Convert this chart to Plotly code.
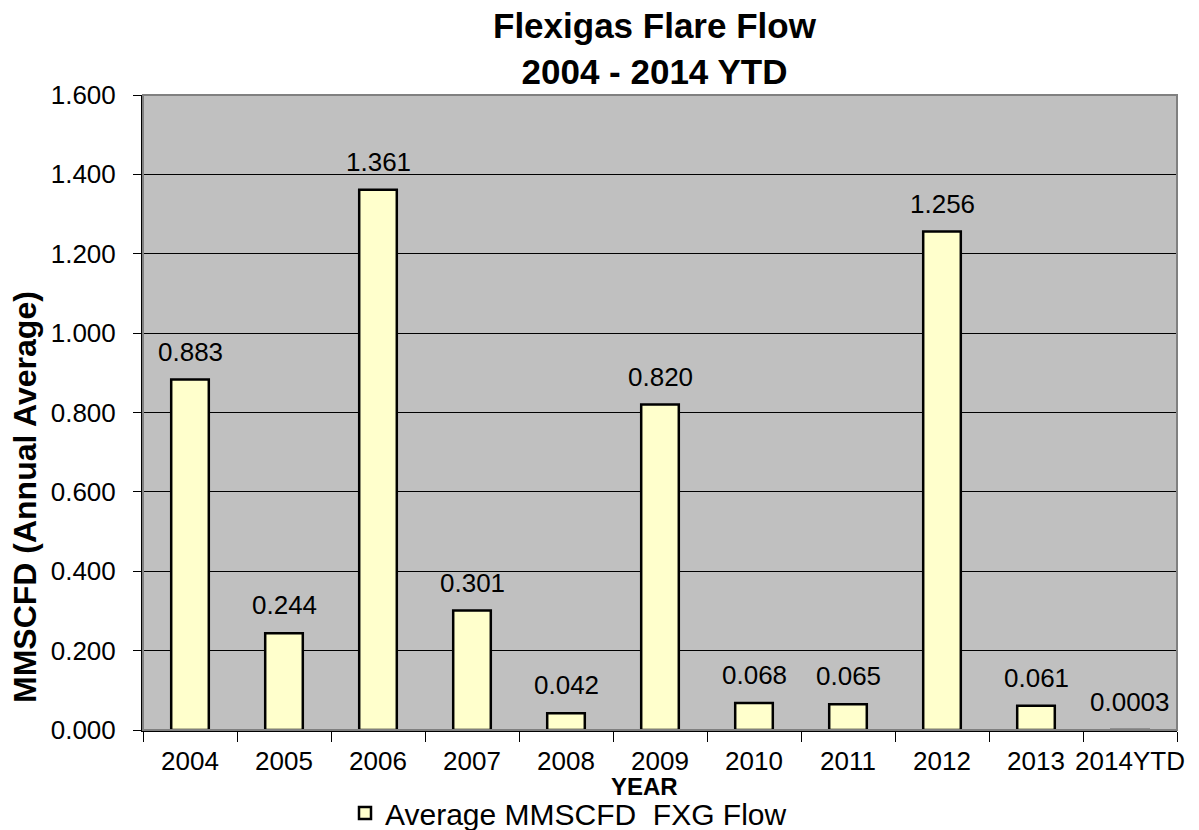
import plotly.graph_objects as go

categories = ["2004", "2005", "2006", "2007", "2008", "2009", "2010", "2011", "2012", "2013", "2014YTD"]
values = [0.883, 0.244, 1.361, 0.301, 0.042, 0.820, 0.068, 0.065, 1.256, 0.061, 0.0003]
labels = ["0.883", "0.244", "1.361", "0.301", "0.042", "0.820", "0.068", "0.065", "1.256", "0.061", "0.0003"]
series_name = "Average MMSCFD  FXG Flow"
y_ticks = [0.0, 0.2, 0.4, 0.6, 0.8, 1.0, 1.2, 1.4, 1.6]

FONT = "Liberation Sans, Arial, sans-serif"

# page body has an 8px margin: plot area on screen spans x 143..1177, y 95..730
OFF = 8
PL, PR, PT, PB = 143, 1177, 95, 730
W, H = 1199 - OFF, 830 - OFF


def px(x):
    return (x - PL) / (PR - PL)


def py(y):
    return (PB - y) / (PB - PT)


fig = go.Figure()
fig.add_trace(go.Bar(
    x=categories, y=values, name=series_name,
    marker=dict(color="#FFFFCC", line=dict(color="black", width=2.5)),
    cliponaxis=False, showlegend=True,
))

# value labels above bars (x given as category index on the category axis)
for i, (val, lab) in enumerate(zip(values, labels)):
    fig.add_annotation(x=i, y=val, text=lab, xref="x", yref="y", showarrow=False,
                       xanchor="center", yanchor="bottom", yshift=11,
                       font=dict(size=26, family=FONT, color="black"))

fig.update_layout(
    width=W, height=H,
    margin=dict(l=PL - OFF, r=W - (PR - OFF), t=PT - OFF, b=H - (PB - OFF), autoexpand=False),
    paper_bgcolor="white", plot_bgcolor="#C0C0C0",
    font=dict(family=FONT, color="black"),
    bargap=0.6,
    showlegend=True,
    legend=dict(orientation="h", x=px(345), xanchor="left", y=py(813), yanchor="middle",
                font=dict(size=30, family=FONT, color="black"), bgcolor="rgba(0,0,0,0)",
                itemwidth=30),
)

fig.update_xaxes(
    type="category", range=[-0.5, len(categories) - 0.5], showgrid=False,
    ticks="outside", ticklen=10, tickcolor="black",
    tickson="boundaries", showline=True, linecolor="black", linewidth=2,
    tickfont=dict(size=26, family=FONT, color="black"), ticklabelstandoff=7,
    tickangle=0, automargin=False,
)
fig.update_yaxes(
    range=[0, 1.6], tickvals=y_ticks, tickformat=".3f", showgrid=True, gridcolor="black", gridwidth=1,
    ticks="outside", ticklen=8, tickcolor="black", showline=True, linecolor="black", linewidth=2,
    tickfont=dict(size=26, family=FONT, color="black"), zeroline=False, ticklabelstandoff=12,
    automargin=False,
)

# plot area border (gray)
fig.add_shape(type="rect", xref="paper", yref="paper", x0=0, x1=1, y0=0, y1=1,
              line=dict(color="#808080", width=2), layer="above")

fig.add_annotation(text="<b>Flexigas Flare Flow<br>2004 - 2014 YTD</b>", xref="paper", yref="paper",
                   x=px(655), y=py(48), xanchor="center", yanchor="middle",
                   showarrow=False, font=dict(size=35, family=FONT, color="black"))
fig.add_annotation(text="<b>YEAR</b>", xref="paper", yref="paper", x=px(644),
                   y=py(786), xanchor="center", yanchor="middle", showarrow=False,
                   font=dict(size=24, family=FONT, color="black"))
fig.add_annotation(text="<b>MMSCFD (Annual Average)</b>", xref="paper", yref="paper",
                   x=px(25), y=py(497), xanchor="center", yanchor="middle",
                   textangle=-90, showarrow=False,
                   font=dict(size=32, family=FONT, color="black"))

fig.write_html("out.html")
